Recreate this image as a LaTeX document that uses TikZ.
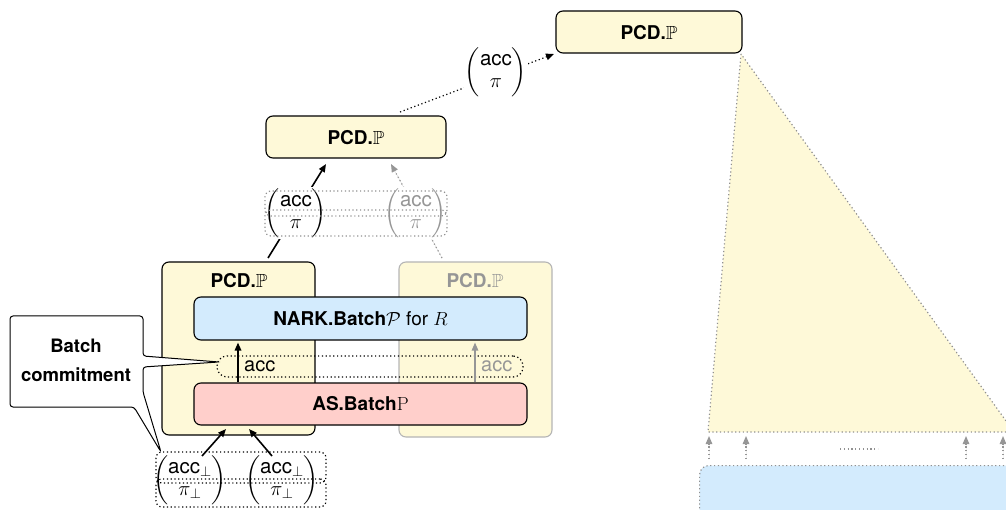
\RequirePackage{fix-cm}
\documentclass[tikz,border=0pt]{standalone}
\usepackage{amsmath,amssymb}
\usepackage{fontspec}
\setmainfont{TeX Gyre Heros}
\usetikzlibrary{arrows.meta}
\definecolor{pcdyellow}{RGB}{254,249,216}
\definecolor{narkblue}{RGB}{211,235,253}
\definecolor{aspink}{RGB}{255,207,203}
\definecolor{softgray}{RGB}{150,150,150}
\definecolor{dotgray}{RGB}{145,145,145}
\tikzset{
  box/.style={draw=black, line width=1.1pt, rounded corners=7pt, inner sep=0pt},
  pcdbox/.style={box, fill=pcdyellow},
  lbl/.style={font=\bfseries\fontsize{19}{23}\selectfont, inner sep=1pt},
  dotline/.style={dash pattern=on 1.2pt off 2.6pt, line width=1.2pt},
  rowbox/.style={draw=dotgray, dotline, rounded corners=6pt, inner sep=0pt},
  arr/.style={-{Triangle[length=8pt,width=6.5pt]}, line width=1.6pt},
  dotarr/.style={-{Triangle[length=8pt,width=6.5pt]}, dotline},
  grayarr/.style={-{Triangle[length=8pt,width=6.5pt]}, dotline, draw=softgray, fill=softgray},
  mat/.style={fill=white, inner sep=1pt, font=\fontsize{20.5}{22}\selectfont},
}
\begin{document}
\begin{tikzpicture}[x=1pt,y=-1pt, font=\fontsize{20}{23}\selectfont]
\useasboundingbox (0,0) rectangle (1006,510);

% ---- right part: triangle and leaves
\coordinate (tt) at (741,54);
\coordinate (tl) at (708,432);
\coordinate (tr) at (1014,432);
\fill[pcdyellow] (tt) -- (tl) -- (tr) -- cycle;
\draw[draw=dotgray, dotline] (tt) -- (tl) -- (tr) -- cycle;
\node[rowbox, fill=narkblue, rounded corners=9pt, minimum width=340pt, minimum height=70pt, anchor=north west] (leaves) at (699,465) {};
\foreach \i/\x in {1/709,2/746,3/966,4/1003}{
  \coordinate (ls\i) at (\x,459);
  \coordinate (le\i) at (\x,436);
  \draw[grayarr] (ls\i) -- (le\i);
}
\coordinate (d1) at (840,449);
\coordinate (d2) at (878,449);
\draw[draw=dotgray, dotline] (d1) -- (d2);

% ---- upper PCD boxes
\node[pcdbox, minimum width=186pt, minimum height=42pt] (toppcd) at (649,32) {};
\node[lbl] (toppcdl) at (649,33) {PCD.$\mathbb{P}$};
\node[pcdbox, minimum width=180pt, minimum height=42pt] (midpcd) at (356,137) {};
\node[lbl] (midpcdl) at (356,138) {PCD.$\mathbb{P}$};

% ---- connectors through the (acc, pi) pairs
\coordinate (s3) at (400,112);
\coordinate (e3) at (554,54);
\draw[dotarr] (s3) -- (e3);
\coordinate (s1) at (268,258);
\coordinate (e1) at (326,164);
\draw[arr] (s1) -- (e1);
\coordinate (s2) at (442,258);
\coordinate (e2) at (391,164);
\draw[grayarr] (s2) -- (e2);

\node[mat] (m0) at (496,72) {$\begin{pmatrix}\text{acc}\\ \pi\end{pmatrix}$};
\node[mat] (m1) at (296,213) {$\begin{pmatrix}\text{acc}\\ \pi\end{pmatrix}$};
\node[mat, text=softgray] (m2) at (416,213) {$\begin{pmatrix}\text{acc}\\ \pi\end{pmatrix}$};
\node[rowbox, minimum width=182pt, minimum height=25pt] (rowa) at (356,203.5) {};
\node[rowbox, minimum width=182pt, minimum height=26pt] (rowb) at (356,223) {};

% ---- lower PCD boxes
\node[pcdbox, minimum width=153pt, minimum height=173pt] (lpcd) at (238.5,348.5) {};
\node[lbl] (lpcdl) at (239,281) {PCD.$\mathbb{P}$};
\node[pcdbox, draw=softgray!70, minimum width=153pt, minimum height=175pt] (rpcd) at (475.5,349.5) {};
\node[lbl, text=softgray] (rpcdl) at (475,281) {PCD.$\mathbb{P}$};

\node[box, fill=narkblue, minimum width=333pt, minimum height=43pt, font=\fontsize{19}{23}\selectfont] (nark) at (360.5,318.5)
  {{\bfseries NARK.Batch}$\mathcal{P}$ for $R$};
\node[box, fill=aspink, minimum width=333pt, minimum height=42pt, font=\fontsize{19}{23}\selectfont] (as) at (360.5,404)
  {{\bfseries AS.Batch}{\usefont{OT1}{cmr}{m}{n}P}};
\node[draw=black, dotline, rounded corners=10pt, minimum width=306pt, minimum height=21pt, inner sep=0pt] (accbox) at (370,366.5) {};
\coordinate (ax1) at (238,0);
\coordinate (ax2) at (475,0);
\draw[arr, shorten >=2pt] (ax1 |- as.north) -- (ax1 |- nark.south);
\draw[-{Triangle[length=8pt,width=6.5pt]}, line width=1.3pt, draw=softgray, fill=softgray, shorten >=2pt] (ax2 |- as.north) -- (ax2 |- nark.south);
\node[anchor=west, inner sep=1pt] (acc1) at (243,366) {acc};
\node[anchor=west, inner sep=1pt, text=softgray] (acc2) at (480,366) {acc};

% ---- bottom inputs
\coordinate (s4) at (202,456);
\coordinate (e4) at (226,429);
\coordinate (s5) at (272,456);
\coordinate (e5) at (249,429);
\draw[arr] (s4) -- (e4);
\draw[arr] (s5) -- (e5);
\node[inner sep=1pt, font=\fontsize{20.5}{22}\selectfont] (b1) at (190,480) {$\begin{pmatrix}\text{acc}_\perp\\ \pi_\perp\end{pmatrix}$};
\node[inner sep=1pt, font=\fontsize{20.5}{22}\selectfont] (b2) at (282,480) {$\begin{pmatrix}\text{acc}_\perp\\ \pi_\perp\end{pmatrix}$};
\node[rowbox, draw=black, minimum width=170pt, minimum height=31pt] (bra) at (241,467.5) {};
\node[rowbox, draw=black, minimum width=170pt, minimum height=28pt] (brb) at (241,493) {};

% ---- callout
\draw[line width=1pt, fill=white, rounded corners=3pt]
  (10,316) -- (143,316) -- (143,356) -- (219,362) -- (143,367) -- (143,392)
  -- (161,452) -- (134,407) -- (10,407) -- cycle;
\node[font=\bfseries\fontsize{18.5}{29}\selectfont, align=center] (callout) at (76,360) {Batch\\commitment};
\end{tikzpicture}
\end{document}
